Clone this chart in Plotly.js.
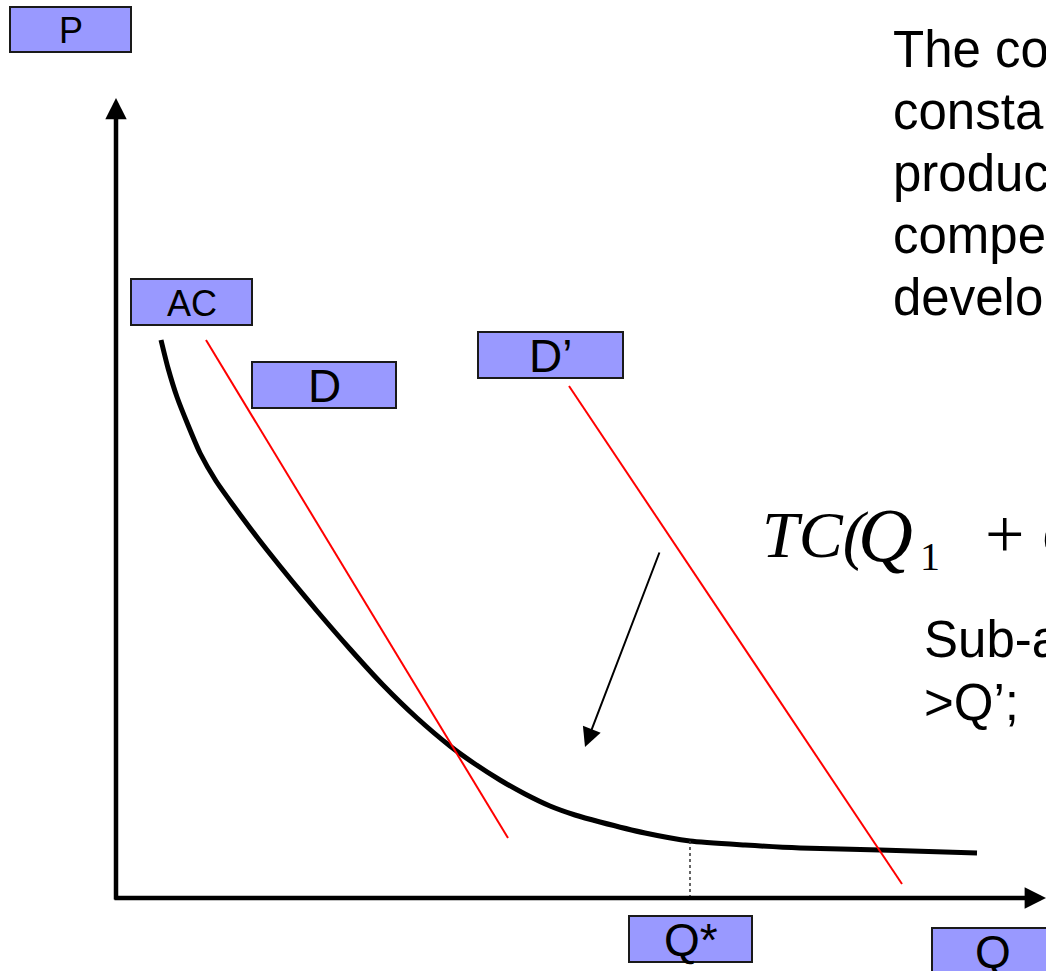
<!DOCTYPE html>
<html>
<head>
<meta charset="utf-8">
<script src="https://cdn.plot.ly/plotly-3.0.1.min.js"></script>
<style>html,body{margin:0;padding:0;background:#fff;overflow:hidden}#chart{width:1046px;height:971px}</style>
</head>
<body>
<div id="chart"></div>
<script>
// ---- data (Q = quantity, P = price) ----
const acQ = [45, 52, 61, 72, 84, 100, 117, 134, 151, 176, 201, 234, 267, 301, 334, 359, 384, 409, 434, 459, 484, 529, 574, 629, 684, 764, 861];
const acP = [558, 530, 501, 473, 445, 417, 393, 370, 348, 317, 287, 249, 213, 180, 152, 134, 118, 104, 92, 83, 76, 65, 57, 53, 50, 48, 45];
const demandQ = [90, 392];
const demandP = [558, 60];
const demand2Q = [453, 786];
const demand2P = [512, 14];
const qStar = 574;
const qStarP = 57;
const shiftArrowFrom = [544, 347];
const shiftArrowTo = [469, 151];
const labelTexts = ['P', 'AC', 'D', 'D\u2019', 'Q*', 'Q'];
const textLines = ['The co', 'consta', 'produc', 'compe', 'develo'];
const subLines = ['Sub-a', '>Q\u2019;'];
const formulaParts = ['<i>TC(</i>', '<i>Q</i>', '1', '+', '<i>Q</i>'];

// ---- label box geometry [Q0, Q1, P0, P1, fontSize] ----
const labelBoxes = [
  [-106, 15, 846, 891, 36],
  [15, 136, 573, 619, 36],
  [136, 280, 490, 536, 46],
  [362, 507, 520, 566, 46],
  [513, 636, -64, -18, 46],
  [816, 937, -75, -30, 46]
];
// formula piece placement [Q left, P middle, size]
const formulaPos = [
  [645, 363, 66],
  [741, 363, 76],
  [803, 342, 40],
  [868, 364, 70],
  [924, 363, 68]
];

const traces = [
  {x: acQ, y: acP, mode: 'lines', line: {color: '#000', width: 5, shape: 'spline', smoothing: 0.6}, hoverinfo: 'skip'},
  {x: demandQ, y: demandP, mode: 'lines', line: {color: '#FF0000', width: 2}, hoverinfo: 'skip'},
  {x: demand2Q, y: demand2P, mode: 'lines', line: {color: '#FF0000', width: 2}, hoverinfo: 'skip'},
  {x: [qStar, qStar], y: [qStarP, 0], mode: 'lines', line: {color: '#333', width: 1.5, dash: 'dot'}, hoverinfo: 'skip'}
];

const shapes = labelBoxes.map(b => ({
  type: 'rect', xref: 'x', yref: 'y', x0: b[0], x1: b[1], y0: b[2], y1: b[3],
  fillcolor: '#9999FF', line: {color: '#1a1a1a', width: 2}, layer: 'above'
}));

const annotations = [];
labelBoxes.forEach((b, i) => {
  annotations.push({
    x: (b[0] + b[1]) / 2, y: (b[2] + b[3]) / 2 - 1, xref: 'x', yref: 'y',
    text: labelTexts[i], showarrow: false, xanchor: 'center', yanchor: 'middle',
    font: {family: 'Liberation Sans, Arial, sans-serif', size: b[4], color: '#000'}
  });
});
// axes arrows
annotations.push({x: 0, y: 800, ax: 0, ay: -3, xref: 'x', yref: 'y', axref: 'x', ayref: 'y',
  text: '', showarrow: true, arrowhead: 2, arrowsize: 0.95, arrowwidth: 4.5, arrowcolor: '#000', standoff: 0});
annotations.push({x: 930, y: 0, ax: -3, ay: 0, xref: 'x', yref: 'y', axref: 'x', ayref: 'y',
  text: '', showarrow: true, arrowhead: 2, arrowsize: 0.95, arrowwidth: 4.5, arrowcolor: '#000', standoff: 0});
// shift arrow
annotations.push({x: shiftArrowTo[0], y: shiftArrowTo[1], ax: shiftArrowFrom[0], ay: shiftArrowFrom[1],
  xref: 'x', yref: 'y', axref: 'x', ayref: 'y', text: '', showarrow: true,
  arrowhead: 2, arrowsize: 1.9, arrowwidth: 2, arrowcolor: '#000', standoff: 0});
// text block
const textFont = {family: 'Liberation Sans, Arial, sans-serif', size: 51, color: '#000'};
const lineP = [849, 787, 725, 663, 601];
textLines.forEach((t, i) => {
  annotations.push({x: 775, y: lineP[i], xref: 'x', yref: 'y', text: t, showarrow: false,
    xanchor: 'left', yanchor: 'middle', font: textFont});
});
const subP = [259, 196];
subLines.forEach((t, i) => {
  annotations.push({x: 806, y: subP[i], xref: 'x', yref: 'y', text: t, showarrow: false,
    xanchor: 'left', yanchor: 'middle', font: textFont});
});
formulaParts.forEach((t, i) => {
  const f = formulaPos[i];
  annotations.push({x: f[0], y: f[1], xref: 'x', yref: 'y', text: t, showarrow: false,
    xanchor: 'left', yanchor: 'middle', borderpad: 0,
    font: {family: 'Liberation Serif, Times New Roman, serif', size: f[2], color: '#000'}});
});

const layout = {
  width: 1046, height: 971,
  margin: {l: 0, r: 0, t: 0, b: 0, pad: 0},
  paper_bgcolor: '#fff', plot_bgcolor: '#fff',
  showlegend: false,
  xaxis: {range: [-116, 930], visible: false, fixedrange: true},
  yaxis: {range: [-73, 898], visible: false, fixedrange: true},
  shapes: shapes,
  annotations: annotations
};

Plotly.newPlot('chart', traces, layout, {staticPlot: true, displayModeBar: false});
</script>
</body>
</html>
